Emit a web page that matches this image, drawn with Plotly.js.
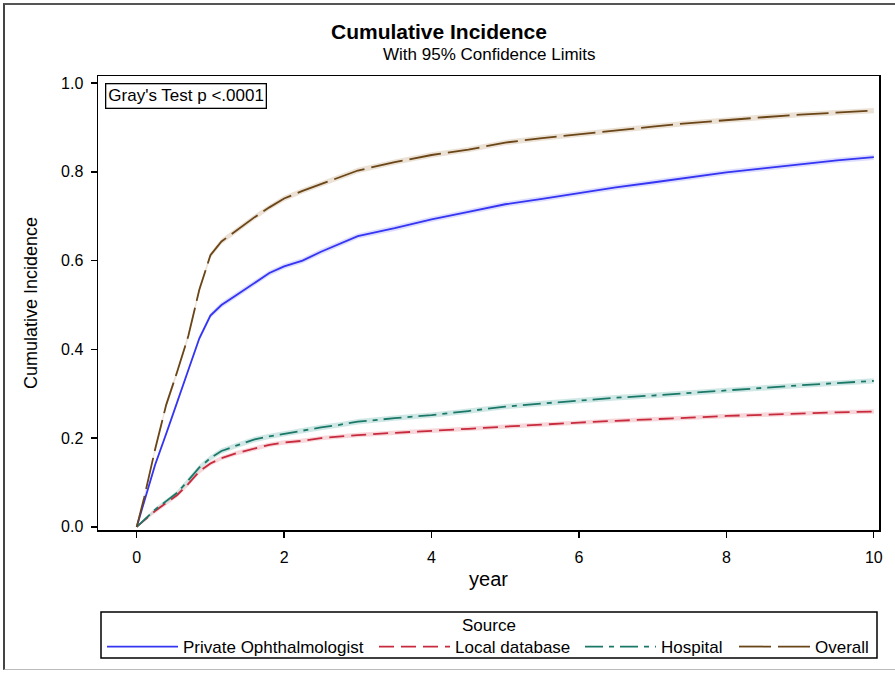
<!DOCTYPE html>
<html>
<head>
<meta charset="utf-8">
<script src="https://cdn.plot.ly/plotly-3.0.1.min.js"></script>
<style>
  html, body { margin: 0; padding: 0; background: #fff; }
  #wrap { position: relative; width: 895px; height: 673px; }
  #chart { width: 895px; height: 673px; }
  #frame { position: absolute; left: 3px; top: 3px; width: 900px; height: 667px;
           border-left: 2px solid #444; border-top: 2px solid #555; border-bottom: 1px solid #bbb;
           pointer-events: none; box-sizing: border-box; }
</style>
</head>
<body>
<div id="wrap">
  <div id="chart"></div>
  <div id="frame"></div>
</div>
<script>
// ---- data ----
const years = [0, 0.1, 0.25, 0.4, 0.55, 0.7, 0.85, 1.0, 1.15, 1.35, 1.6, 1.8, 2.0, 2.25, 2.5, 2.75, 3.0, 3.5, 4.0, 4.5, 5.0, 5.5, 6.0, 6.5, 7.0, 7.5, 8.0, 8.5, 9.0, 9.5, 10.0];

const seriesNames = ["Private Ophthalmologist", "Local database", "Hospital", "Overall"];
const legendTitle = "Source";

const privateCI = [0, .055, .14, .21, .28, .355, .425, .476, .5, .522, .55, .572, .587, .6, .62, .638, .655, .673, .693, .71, .727, .739, .752, .765, .776, .788, .799, .808, .817, .826, .833];
const privateLow = [0, .051, .135, .204, .274, .349, .419, .470, .494, .516, .544, .566, .581, .594, .614, .632, .649, .667, .687, .704, .721, .733, .746, .759, .770, .782, .793, .802, .811, .820, .827];
const privateHigh = [0, .059, .145, .216, .286, .361, .431, .482, .506, .528, .556, .578, .593, .606, .626, .644, .661, .679, .699, .716, .733, .745, .758, .771, .782, .794, .805, .814, .823, .832, .839];

const localCI = [0, .015, .036, .054, .072, .097, .125, .143, .155, .166, .177, .185, .19, .194, .2, .204, .207, .212, .216, .221, .226, .231, .235, .239, .242, .246, .25, .253, .256, .258, .26];
const localLow = [0, .012, .032, .049, .067, .092, .120, .138, .150, .161, .172, .180, .185, .189, .195, .199, .202, .207, .211, .216, .221, .226, .230, .234, .237, .241, .245, .248, .251, .253, .255];
const localHigh = [0, .018, .040, .059, .077, .102, .130, .148, .160, .171, .182, .190, .195, .199, .205, .209, .212, .217, .221, .226, .231, .236, .240, .244, .247, .251, .255, .258, .261, .263, .265];

const hospitalCI = [0, .016, .039, .058, .077, .105, .134, .155, .171, .183, .197, .204, .21, .217, .224, .23, .237, .245, .252, .261, .271, .278, .285, .291, .296, .302, .308, .314, .319, .324, .329];
const hospitalLow = [0, .013, .035, .053, .072, .099, .128, .149, .165, .177, .191, .198, .204, .211, .218, .224, .231, .239, .246, .255, .265, .272, .279, .285, .290, .296, .302, .308, .313, .318, .323];
const hospitalHigh = [0, .019, .043, .063, .082, .111, .140, .161, .177, .189, .203, .210, .216, .223, .230, .236, .243, .251, .258, .267, .277, .284, .291, .297, .302, .308, .314, .320, .325, .330, .335];

const overallCI = [0, .065, .175, .275, .35, .43, .535, .612, .643, .668, .698, .72, .74, .757, .772, .788, .803, .822, .838, .85, .866, .876, .885, .894, .902, .91, .917, .923, .929, .934, .938];
const overallLow = [0, .061, .170, .269, .344, .424, .529, .606, .637, .662, .692, .714, .734, .751, .766, .782, .797, .816, .832, .844, .860, .870, .879, .888, .896, .904, .911, .917, .923, .928, .932];
const overallHigh = [0, .069, .180, .281, .356, .436, .541, .618, .649, .674, .704, .726, .746, .763, .778, .794, .809, .828, .844, .856, .872, .882, .891, .900, .908, .916, .923, .929, .935, .940, .944];

const xTicks = [0, 2, 4, 6, 8, 10];
const yTicks = [0, 0.2, 0.4, 0.6, 0.8, 1.0];

// ---- styles ----
const FONT = "Liberation Sans, Arial, Helvetica, sans-serif";
const styles = [
  {color: "#3434f2", band: "rgba(140,140,255,0.30)", dash: "solid"},
  {color: "#c72a3c", band: "rgba(236,150,160,0.38)", dash: "15px,7px"},
  {color: "#1b7868", band: "rgba(150,205,198,0.45)", dash: "18px,6px,5px,6px"},
  {color: "#6a4518", band: "rgba(215,195,170,0.50)", dash: "32px,7px"}
];
const mids = [privateCI, localCI, hospitalCI, overallCI];
const lows = [privateLow, localLow, hospitalLow, overallLow];
const highs = [privateHigh, localHigh, hospitalHigh, overallHigh];
const legendIds = ["legend", "legend2", "legend3", "legend4"];

const traces = [];
for (let i = 0; i < 4; i++) {
  traces.push({x: years, y: lows[i], type: "scatter", mode: "lines",
    line: {width: 0, color: styles[i].band}, showlegend: false, hoverinfo: "skip"});
  traces.push({x: years, y: highs[i], type: "scatter", mode: "lines", fill: "tonexty",
    fillcolor: styles[i].band, line: {width: 0, color: styles[i].band}, showlegend: false, hoverinfo: "skip"});
}
for (let i = 0; i < 4; i++) {
  traces.push({x: years, y: mids[i], type: "scatter", mode: "lines", name: seriesNames[i],
    legend: legendIds[i], showlegend: true,
    line: {color: styles[i].color, width: 1.8, dash: styles[i].dash}});
}

// plot area: x 98..879, y 76..530
const L = 98, R = 879, T = 76, B = 530, W = 895, H = 673;
const px = v => (v - L) / (R - L);
const py = v => (B - v) / (B - T);

// left pixel of each legend entry's line sample
const legendX = [108, 380, 586, 740];
function legendSpec(xpix) {
  return {
    orientation: "h", x: px(xpix - 6), xanchor: "left", y: py(647), yanchor: "middle",
    bgcolor: "rgba(0,0,0,0)", borderwidth: 0, itemwidth: 71,
    font: {size: 17, family: FONT}
  };
}

const layout = {
  width: W, height: H,
  margin: {l: L, r: W - R, t: T, b: H - B, pad: 0, autoexpand: false},
  paper_bgcolor: "#fff", plot_bgcolor: "#fff",
  font: {family: FONT, color: "#000", size: 16},
  showlegend: true,
  xaxis: {
    range: [-0.525, 10.07], tickvals: xTicks, ticktext: xTicks.map(String),
    ticks: "outside", ticklen: 6, tickwidth: 1.3, tickcolor: "#000",
    showline: true, mirror: true, linecolor: "#000", linewidth: 1.5,
    showgrid: false, zeroline: false, automargin: false,
    tickfont: {size: 16, family: FONT}, ticklabelstandoff: 6,
    title: {text: "year", standoff: 7, font: {size: 20, family: "Liberation Sans Narrow, Arial Narrow, " + FONT}}
  },
  yaxis: {
    range: [-0.007, 1.016], tickvals: yTicks, ticktext: yTicks.map(v => v.toFixed(1)),
    ticks: "outside", ticklen: 6, tickwidth: 1.3, tickcolor: "#000",
    showline: true, mirror: true, linecolor: "#000", linewidth: 1.5,
    showgrid: false, zeroline: false, automargin: false,
    tickfont: {size: 16, family: FONT}, ticklabelstandoff: 4,
    title: {text: "Cumulative Incidence", standoff: 18, font: {size: 18, family: FONT}}
  },
  legend: legendSpec(legendX[0]),
  legend2: legendSpec(legendX[1]),
  legend3: legendSpec(legendX[2]),
  legend4: legendSpec(legendX[3]),
  shapes: [
    {type: "rect", xref: "paper", yref: "paper", x0: px(101), x1: px(877), y0: py(658), y1: py(612),
     line: {color: "#000", width: 1.5}, fillcolor: "rgba(0,0,0,0)", layer: "above"}
  ],
  annotations: [
    {text: "<b>Cumulative Incidence</b>", xref: "paper", yref: "paper", x: px(438.5), y: py(32),
     xanchor: "center", yanchor: "middle", showarrow: false, font: {size: 21, family: FONT}},
    {text: "With 95% Confidence Limits", xref: "paper", yref: "paper", x: px(489.5), y: py(55),
     xanchor: "center", yanchor: "middle", showarrow: false, font: {size: 17, family: FONT}},
    {text: "Gray's Test p <.0001", xref: "paper", yref: "paper", x: px(105), y: py(83),
     xanchor: "left", yanchor: "top", showarrow: false, font: {size: 17, family: FONT},
     bordercolor: "#000", borderwidth: 1.3, borderpad: 2, bgcolor: "#fff"},
    {text: legendTitle, xref: "paper", yref: "paper", x: px(489), y: py(625),
     xanchor: "center", yanchor: "middle", showarrow: false, font: {size: 17, family: FONT}}
  ]
};

Plotly.newPlot("chart", traces, layout, {staticPlot: true, displayModeBar: false});
</script>
</body>
</html>
